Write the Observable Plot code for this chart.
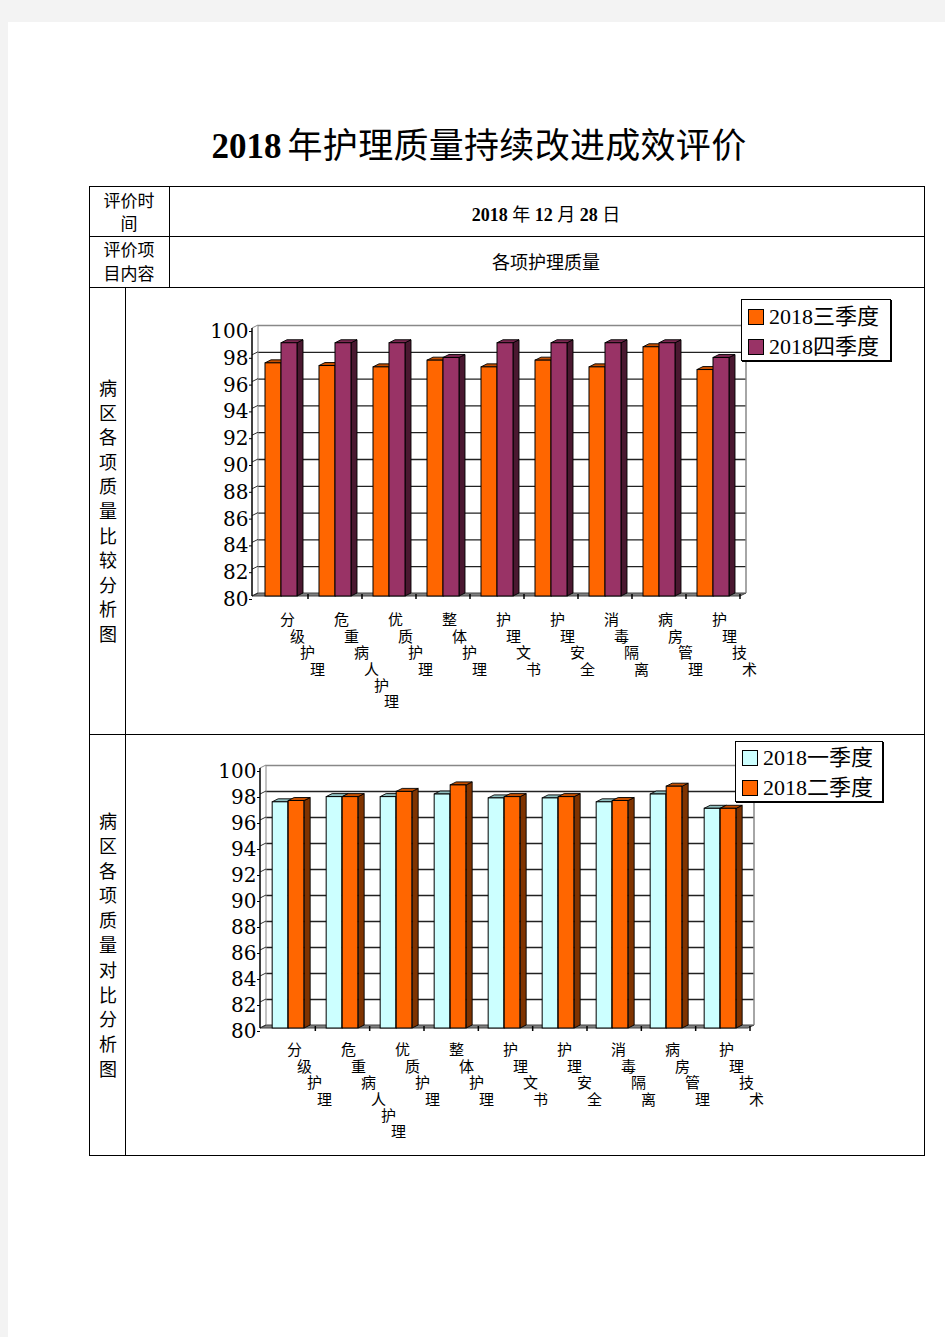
<!DOCTYPE html>
<html><head><meta charset="utf-8">
<script src="https://cdn.jsdelivr.net/npm/d3@7"></script>
<script src="https://cdn.jsdelivr.net/npm/@observablehq/plot@0.6"></script>
<style>
body{margin:0;background:#f3f3f3;width:945px;height:1337px;position:relative;overflow:hidden;font-family:"Liberation Serif","Noto Sans CJK SC",serif;color:#000}
.abs{position:absolute}
.c{position:absolute;transform:translate(-50%,-50%);white-space:nowrap;text-align:center}
.hl{position:absolute;height:1px;background:#000}
.vl{position:absolute;width:1px;background:#000}
.leg{position:absolute;background:#fff;border:1px solid #000;box-shadow:1px 1px 0 #000}
.leg .row{position:absolute;left:6px;display:flex;align-items:center;font-size:22px;line-height:22px;white-space:nowrap}
.leg .sw{width:14px;height:14px;border:1px solid #000;margin-right:5px}
</style></head>
<body>
<div class="abs" style="left:8px;top:22px;width:937px;height:1315px;background:#fff"></div>

<div class="c" style="left:479px;top:142px;font-size:35px;"><b style="font-family:'Liberation Serif'">2018</b><span style="font-family:'Noto Sans CJK SC';margin-left:6px;letter-spacing:0.3px">年护理质量持续改进成效评价</span></div>

<!-- table -->
<div class="abs" style="left:89px;top:186px;width:834px;height:968px;border:1px solid #000"></div>
<div class="hl" style="left:89px;top:236px;width:835px"></div>
<div class="hl" style="left:89px;top:287px;width:835px"></div>
<div class="hl" style="left:89px;top:734px;width:835px"></div>
<div class="vl" style="left:169px;top:186px;height:101px"></div>
<div class="vl" style="left:125px;top:287px;height:868px"></div>

<div class="c" style="left:129px;top:211px;font-size:17px;line-height:23px;font-family:'Noto Sans CJK SC'">评价时<br>间</div>
<div class="c" style="left:546px;top:213px;font-size:18px;font-weight:bold">2018 <span style="font-family:'Noto Sans CJK SC';font-weight:normal">年</span> 12 <span style="font-family:'Noto Sans CJK SC';font-weight:normal">月</span> 28 <span style="font-family:'Noto Sans CJK SC';font-weight:normal">日</span></div>
<div class="c" style="left:129px;top:261px;font-size:17px;line-height:24px;font-family:'Noto Sans CJK SC'">评价项<br>目内容</div>
<div class="c" style="left:546px;top:261px;font-size:18px;font-family:'Noto Sans CJK SC'">各项护理质量</div>

<div class="abs" style="left:98px;top:375px;width:20px;font-size:18px;line-height:24.6px;text-align:center;font-family:'Noto Sans CJK SC'">病<br>区<br>各<br>项<br>质<br>量<br>比<br>较<br>分<br>析<br>图</div>
<div class="abs" style="left:98px;top:808px;width:20px;font-size:18px;line-height:24.8px;text-align:center;font-family:'Noto Sans CJK SC'">病<br>区<br>各<br>项<br>质<br>量<br>对<br>比<br>分<br>析<br>图</div>

<div id="chart1" class="abs" style="left:180px;top:290px"></div>
<div id="chart2" class="abs" style="left:180px;top:735px"></div>

<div class="leg" style="left:741px;top:299px;width:148px;height:60px">
  <div class="row" style="top:6px"><div class="sw" style="background:#FF6600"></div>2018三季度</div>
  <div class="row" style="top:36px"><div class="sw" style="background:#993366"></div>2018四季度</div>
</div>
<div class="leg" style="left:735px;top:741px;width:146px;height:59px">
  <div class="row" style="top:5px"><div class="sw" style="background:#CCFFFF"></div>2018一季度</div>
  <div class="row" style="top:35px"><div class="sw" style="background:#FF6600"></div>2018二季度</div>
</div>

<script>
// ---- data ----
const categories = ["分级护理","危重病人护理","优质护理","整体护理","护理文书","护理安全","消毒隔离","病房管理","护理技术"];
const q3 = [97.4, 97.2, 97.1, 97.6, 97.1, 97.6, 97.1, 98.6, 96.9];
const q4 = [98.9, 98.9, 98.9, 97.8, 98.9, 98.9, 98.9, 98.9, 97.8];
const q1 = [97.4, 97.8, 97.8, 98.0, 97.7, 97.7, 97.4, 98.0, 96.9];
const q2 = [97.5, 97.8, 98.2, 98.7, 97.8, 97.8, 97.5, 98.6, 96.9];
const yTicks = [80,82,84,86,88,90,92,94,96,98,100];

const ORANGE = {front:"#FF6600", top:"#C85000", side:"#7F3300"};
const PURPLE = {front:"#993366", top:"#7A2850", side:"#4A1830"};
const CYAN   = {front:"#CCFFFF", top:"#8FBFBF", side:"#5F8F8F"};

function chart({a, b, colA, colB, axisX, xRange, yRange, height, labelDy}) {
  const D = 6, E = 3, bw = 16;
  const step = (xRange[1] - xRange[0]) / categories.length;
  const half = step / 2;
  const rows = categories.map((c, i) => ({cat: c, a: a[i], b: b[i]}));
  const chars = [];
  categories.forEach(c => [...c].forEach((ch, j) => chars.push({cat: c, ch, j})));
  const L = axisX, R = xRange[1];

  const walls = (index, scales) => {
    const y = scales.y;
    const g = d3.create("svg:g");
    const yf = y(80);
    g.append("path").attr("d", `M${L},${yf}L${R},${yf}L${R+D},${yf-E}L${L+D},${yf-E}Z`)
      .attr("fill", "#808080").attr("stroke", "#444").attr("stroke-width", 1);
    g.append("line").attr("x1", L+D).attr("x2", L+D).attr("y1", y(100)-E).attr("y2", yf-E).attr("stroke", "#888");
    g.append("line").attr("x1", R+D).attr("x2", R+D).attr("y1", y(100)-E).attr("y2", yf-E).attr("stroke", "#888").attr("stroke-width", 1.5);
    yTicks.forEach(v => {
      g.append("line").attr("x1", L).attr("y1", y(v)).attr("x2", L+D).attr("y2", y(v)-E)
        .attr("stroke", v === 100 ? "#888" : "#333");
    });
    for (let i = 1; i <= categories.length; i++) {
      const xb = scales.x(categories[0]) + step * i;
      g.append("line").attr("x1", xb).attr("x2", xb).attr("y1", yf - 2).attr("y2", yf + 3).attr("stroke", "#000").attr("stroke-width", 1.5);
    }
    g.append("line").attr("x1", L).attr("x2", L).attr("y1", y(100)).attr("y2", yf).attr("stroke", "#000").attr("stroke-width", 1.5);
    return g.node();
  };

  const faces = (index, scales) => {
    const x = scales.x, y = scales.y;
    const g = d3.create("svg:g").attr("stroke", "#000").attr("stroke-width", 0.9).attr("stroke-linejoin", "round");
    rows.forEach(r => {
      const x0 = x(r.cat);
      [[r.a, x0 + half - bw, x0 + half, colA], [r.b, x0 + half, x0 + half + bw, colB]].forEach(([v, xl, xr, c]) => {
        const yt = y(v), yb = y(80);
        g.append("path").attr("d", `M${xr},${yt}L${xr+D},${yt-E}L${xr+D},${yb-E}L${xr},${yb}Z`).attr("fill", c.side);
        g.append("path").attr("d", `M${xl},${yt}L${xr},${yt}L${xr+D},${yt-E}L${xl+D},${yt-E}Z`).attr("fill", c.top);
      });
    });
    return g.node();
  };

  const labelMarks = [0,1,2,3,4,5].map(j => Plot.text(chars.filter(d => d.j === j), {
    x: "cat", y: 80, text: "ch", dx: 6 + 10 * j, dy: labelDy + 16.4 * j,
    fontSize: 15, fontFamily: "Noto Sans CJK SC", fill: "#000"
  }));

  return Plot.plot({
    width: 720, height,
    marginLeft: L, marginRight: 720 - xRange[1], marginTop: 20, marginBottom: 20,
    style: {background: "transparent", overflow: "visible", color: "#000"},
    x: {type: "band", domain: categories, range: xRange, padding: 0, axis: null},
    y: {domain: [80, 100], range: yRange, axis: null},
    marks: [
      Plot.ruleY(yTicks.filter(v => v > 80 && v < 100), {y: d => d, stroke: "#222", strokeWidth: 1.3, dx: D, dy: -E}),
      Plot.ruleY([100], {stroke: "#888", strokeWidth: 1.5, dx: D, dy: -E}),
      walls,
      faces,
      Plot.barY(rows, {x: "cat", y1: 80, y2: "a", fill: colA.front, stroke: "#000", strokeWidth: 1, insetLeft: half - bw, insetRight: half}),
      Plot.barY(rows, {x: "cat", y1: 80, y2: "b", fill: colB.front, stroke: "#000", strokeWidth: 1, insetLeft: half, insetRight: half - bw}),
      Plot.axisY({ticks: yTicks, tickSize: 3, tickPadding: 1, fontSize: 20, fontFamily: "DejaVu Serif", dy: 3, tickFormat: d => String(d), stroke: "#000"}),
      ...labelMarks
    ]
  });
}

document.getElementById("chart1").append(chart({
  a: q3, b: q4, colA: ORANGE, colB: PURPLE, axisX: 72,
  xRange: [74, 560], yRange: [306, 38], height: 430, labelDy: 24
}));
document.getElementById("chart2").append(chart({
  a: q1, b: q2, colA: CYAN, colB: ORANGE, axisX: 80,
  xRange: [79, 568], yRange: [293, 33], height: 420, labelDy: 22
}));
</script>
</body></html>
